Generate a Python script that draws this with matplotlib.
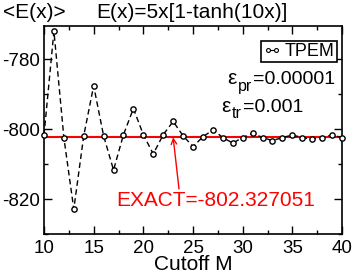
import matplotlib
matplotlib.use("Agg")
import matplotlib.pyplot as plt
from matplotlib.lines import Line2D
from matplotlib.ticker import MultipleLocator

plt.rcParams['font.family'] = ['Liberation Sans', 'DejaVu Sans']
plt.rcParams['axes.unicode_minus'] = False

# Cutoff M and <E(x)> values
cutoff = list(range(10, 41))
energy = [-801.7, -772.0, -802.4, -822.9, -801.9, -787.6, -801.9, -811.7,
          -801.6, -794.1, -801.6, -807.1, -801.6, -797.8, -801.9, -805.0,
          -802.2, -800.2, -802.4, -804.0, -802.4, -801.2, -802.4, -803.3,
          -802.4, -801.7, -802.4, -802.9, -802.4, -801.7, -802.4]
exact = -802.327051

W, H = 354, 273
fig = plt.figure(figsize=(W / 100, H / 100), dpi=100)
ax = fig.add_axes([44 / W, 39 / H, 298 / W, 208 / H])


def px_text(x, y, s, size, **kw):
    # place text by pixel position (from top-left), baseline aligned
    fig.text(x / W, 1 - y / H, s, fontsize=size, ha='left', va='baseline', **kw)


ax.axhline(exact, color='red', lw=1.5, zorder=1)
ax.plot(cutoff, energy, color='black', ls='--', lw=1, dashes=(4, 2.5),
        marker='o', ms=3.8, mfc='white', mec='black', mew=1, zorder=3,
        clip_on=False)

ax.set_xlim(10, 40)
ax.set_ylim(-830, -770.5)
ax.xaxis.set_major_locator(MultipleLocator(5))
ax.xaxis.set_minor_locator(MultipleLocator(2.5))
ax.yaxis.set_major_locator(MultipleLocator(20))
ax.yaxis.set_minor_locator(MultipleLocator(10))
ax.tick_params(which='both', direction='in', top=True, right=True,
               labelsize=13.5)
ax.tick_params(axis='x', pad=4)
ax.tick_params(axis='y', pad=3)
ax.tick_params(which='major', length=6, width=1)
ax.tick_params(which='minor', length=3, width=1)
for s in ax.spines.values():
    s.set_linewidth(1.2)

ax.set_xlabel('Cutoff M', fontsize=15, labelpad=-1)

px_text(3, 18, '<E(x)>', 15)
px_text(96.5, 18, 'E(x)=5x[1-tanh(10x)]', 15)

handle = Line2D([], [], color='black', lw=0.8, marker='o', ms=2.8,
                mfc='white', mec='black', mew=0.8)
leg = ax.legend([handle], ['TPEM'], loc='upper right',
                bbox_to_anchor=(0.982, 0.929), fontsize=13, frameon=True,
                fancybox=False, edgecolor='black', handlelength=1.0,
                handletextpad=0.2, borderpad=0.12, borderaxespad=0,
                numpoints=2, framealpha=1)
leg.get_frame().set_linewidth(1.2)

# epsilon parameters, built from pieces so the subscripts sit like the original
px_text(227.5, 84, 'ε', 15)
px_text(238, 91, 'pr', 11.5)
px_text(253, 84, '=0.00001', 14)
px_text(221.5, 112, 'ε', 15)
px_text(232, 118.5, 'tr', 11.5)
px_text(243, 112, '=0.001', 14)

ax.text(17.32, -822.1, 'EXACT=-802.327051', color='red', fontsize=15,
        ha='left', va='baseline')
ax.annotate('', xy=(23, exact), xytext=(23.59, -817.1),
            arrowprops=dict(arrowstyle='->', color='red', lw=1,
                            shrinkA=0, shrinkB=0))

fig.savefig('out.png', dpi=100)
